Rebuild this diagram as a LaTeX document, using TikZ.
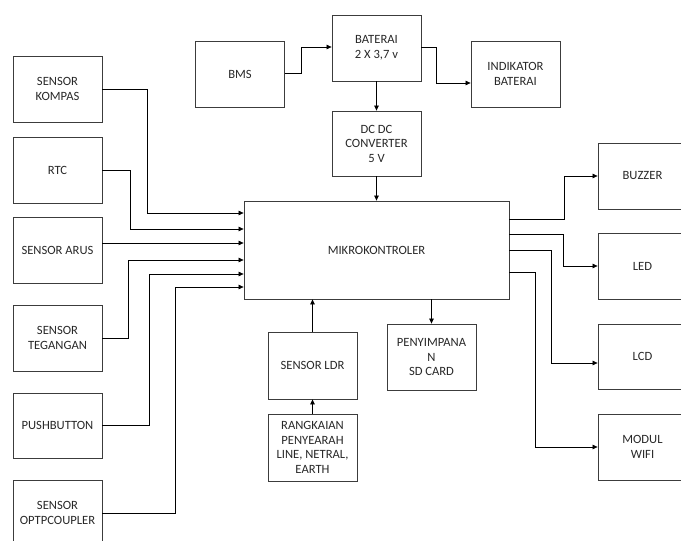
\documentclass[tikz,border=0pt]{standalone}
\usepackage{fontspec}
\setmainfont{Carlito}
\usetikzlibrary{arrows.meta}
\definecolor{ln}{RGB}{60,60,60}
\definecolor{tx}{RGB}{40,40,40}
\tikzset{
  box/.style={draw=ln, line width=0.8pt, minimum width=89pt, minimum height=66pt,
    inner sep=1pt, align=center, text=tx, font=\fontsize{12.6}{14.5}\selectfont},
  arr/.style={draw=black, line width=0.75pt, -{Triangle[length=5pt,width=4.5pt]}}
}
\begin{document}
\begin{tikzpicture}[x=1pt,y=-1pt]
\useasboundingbox (0,0) rectangle (681,541);
\clip (0,0) rectangle (681,541);
% left column
\node[box] (kompas) at (57.5,89) {SENSOR\\KOMPAS};
\node[box] (rtc) at (57.5,170) {RTC};
\node[box] (arus) at (57.5,250) {SENSOR ARUS};
\node[box] (tegangan) at (57.5,338) {SENSOR\\TEGANGAN};
\node[box, minimum height=65pt] (push) at (57.5,425.5) {PUSHBUTTON};
\node[box] (opto) at (57.5,513) {SENSOR\\OPTPCOUPLER};
% top
\node[box] (bms) at (240,74) {BMS};
\node[box] (bat) at (376.5,48) {BATERAI\\2 X 3,7 v};
\node[box] (ind) at (515.5,74) {INDIKATOR\\BATERAI};
\node[box, minimum height=65pt] (dc) at (376.5,143.5) {DC DC\\CONVERTER\\5 V};
% centre
\node[box, minimum width=265pt, minimum height=98pt] (mk) at (376.5,250) {MIKROKONTROLER};
\node[box, minimum height=67pt] (ldr) at (312.5,365.5) {SENSOR LDR};
\node[box, minimum height=67pt] (rang) at (312.5,447.5) {RANGKAIAN\\PENYEARAH\\LINE, NETRAL,\\EARTH};
\node[box] (peny) at (431.5,357) {PENYIMPANA\\N\\SD CARD};
% right
\node[box] (buzzer) at (642.5,176) {BUZZER};
\node[box] (led) at (642.5,266) {LED};
\node[box, minimum height=65pt] (lcd) at (642.5,356.5) {LCD};
\node[box] (wifi) at (642.5,447) {MODUL\\WIFI};
% left connectors
\draw[arr] (kompas.east) -| (147,213) -- (mk.west |- 0,213);
\draw[arr] (rtc.east) -| (130,229) -- (mk.west |- 0,229);
\draw[arr] (arus.east |- 0,243) -- (mk.west |- 0,243);
\draw[arr] (tegangan.east) -| (128,260) -- (mk.west |- 0,260);
\draw[arr] (push.east) -| (149,274) -- (mk.west |- 0,274);
\draw[arr] (opto.east) -| (175,287) -- (mk.west |- 0,287);
% top connectors
\draw[arr] (bms.east |- 0,73) -| (301,47) -- (bat.west |- 0,47);
\draw[arr] (bat.east |- 0,47) -| (436,83) -- (ind.west |- 0,83);
\draw[arr] (bat.south) -- (dc.north);
\draw[arr] (dc.south) -- (mk.north);
% bottom connectors
\draw[arr] (ldr.north) -- (mk.south -| ldr.north);
\draw[arr] (rang.north) -- (ldr.south);
\draw[arr] (mk.south -| peny.north) -- (peny.north);
% right connectors
\draw[arr] (mk.east |- 0,219) -| (564,176) -- (buzzer.west);
\draw[arr] (mk.east |- 0,234) -| (563,266) -- (led.west);
\draw[arr] (mk.east |- 0,250) -| (551,363) -- (lcd.west |- 0,363);
\draw[arr] (mk.east |- 0,272) -| (535,447) -- (wifi.west);
\end{tikzpicture}
\end{document}
